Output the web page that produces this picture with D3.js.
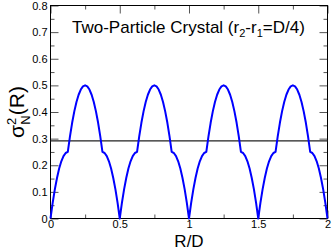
<!DOCTYPE html>
<html>
<head>
<meta charset="utf-8">
<script src="https://cdnjs.cloudflare.com/ajax/libs/d3/7.8.5/d3.min.js"></script>
<style>
    body { margin: 0; background: #fff; }
    svg text { font-family: "Liberation Sans", Arial, Helvetica, sans-serif; fill: #000; }
</style>
</head>
<body>
<svg width="332" height="251"></svg>
<script>
// R/D sample positions
var rOverD = [
    0, .0156, .0313, .0469, .0625, .0781, .0938, .1094, .125, .1406, .1563, .1719, .1875, .2031, .2188, .2344,
    .25, .2656, .2813, .2969, .3125, .3281, .3438, .3594, .375, .3906, .4063, .4219, .4375, .4531, .4688, .4844,
    .5, .5156, .5313, .5469, .5625, .5781, .5938, .6094, .625, .6406, .6563, .6719, .6875, .7031, .7188, .7344,
    .75, .7656, .7813, .7969, .8125, .8281, .8438, .8594, .875, .8906, .9063, .9219, .9375, .9531, .9688, .9844,
    1, 1.0156, 1.0313, 1.0469, 1.0625, 1.0781, 1.0938, 1.1094, 1.125, 1.1406, 1.1563, 1.1719, 1.1875, 1.2031, 1.2188, 1.2344,
    1.25, 1.2656, 1.2813, 1.2969, 1.3125, 1.3281, 1.3438, 1.3594, 1.375, 1.3906, 1.4063, 1.4219, 1.4375, 1.4531, 1.4688, 1.4844,
    1.5, 1.5156, 1.5313, 1.5469, 1.5625, 1.5781, 1.5938, 1.6094, 1.625, 1.6406, 1.6563, 1.6719, 1.6875, 1.7031, 1.7188, 1.7344,
    1.75, 1.7656, 1.7813, 1.7969, 1.8125, 1.8281, 1.8438, 1.8594, 1.875, 1.8906, 1.9063, 1.9219, 1.9375, 1.9531, 1.9688, 1.9844,
    2
];
// number variance sigma_N^2(R) at those positions
var sigma2 = [
    0, .0586, .1094, .1523, .1875, .2148, .2344, .2461, .25, .3086, .3594, .4023, .4375, .4648, .4844, .4961,
    .5, .4961, .4844, .4648, .4375, .4023, .3594, .3086, .25, .2461, .2344, .2148, .1875, .1523, .1094, .0586,
    0, .0586, .1094, .1523, .1875, .2148, .2344, .2461, .25, .3086, .3594, .4023, .4375, .4648, .4844, .4961,
    .5, .4961, .4844, .4648, .4375, .4023, .3594, .3086, .25, .2461, .2344, .2148, .1875, .1523, .1094, .0586,
    0, .0586, .1094, .1523, .1875, .2148, .2344, .2461, .25, .3086, .3594, .4023, .4375, .4648, .4844, .4961,
    .5, .4961, .4844, .4648, .4375, .4023, .3594, .3086, .25, .2461, .2344, .2148, .1875, .1523, .1094, .0586,
    0, .0586, .1094, .1523, .1875, .2148, .2344, .2461, .25, .3086, .3594, .4023, .4375, .4648, .4844, .4961,
    .5, .4961, .4844, .4648, .4375, .4023, .3594, .3086, .25, .2461, .2344, .2148, .1875, .1523, .1094, .0586,
    0
];
var meanVariance = 0.2917;

var xMajor = [0, 0.5, 1, 1.5, 2];
var xMinor = [0.25, 0.75, 1.25, 1.75];
var yMajor = [0, 0.1, 0.2, 0.3, 0.4, 0.5, 0.6, 0.7, 0.8];
var yMinor = [0.05, 0.15, 0.25, 0.35, 0.45, 0.55, 0.65, 0.75];

var svg = d3.select("svg");
var x = d3.scaleLinear().domain([0, 2]).range([50.5, 327.5]);
var y = d3.scaleLinear().domain([0, 0.8]).range([218.5, 5.5]);

var fmt = function(d) { return String(d); };

// bottom axis with labels
svg.append("g").attr("transform", "translate(0," + y(0) + ")")
    .call(d3.axisBottom(x).tickValues(xMajor).tickFormat(fmt).tickSizeInner(-8).tickSizeOuter(0).tickPadding(2));
svg.append("g").attr("transform", "translate(0," + y(0) + ")")
    .call(d3.axisBottom(x).tickValues(xMinor).tickFormat("").tickSizeInner(-4).tickSizeOuter(0));
// top mirror
svg.append("g").attr("transform", "translate(0," + y(0.8) + ")")
    .call(d3.axisTop(x).tickValues(xMajor).tickFormat("").tickSizeInner(-8).tickSizeOuter(0));
svg.append("g").attr("transform", "translate(0," + y(0.8) + ")")
    .call(d3.axisTop(x).tickValues(xMinor).tickFormat("").tickSizeInner(-4).tickSizeOuter(0));

// left axis with labels
svg.append("g").attr("transform", "translate(" + x(0) + ",0)")
    .call(d3.axisLeft(y).tickValues(yMajor).tickFormat(fmt).tickSizeInner(-8).tickSizeOuter(0).tickPadding(3));
svg.append("g").attr("transform", "translate(" + x(0) + ",0)")
    .call(d3.axisLeft(y).tickValues(yMinor).tickFormat("").tickSizeInner(-4).tickSizeOuter(0));
// right mirror
svg.append("g").attr("transform", "translate(" + x(2) + ",0)")
    .call(d3.axisRight(y).tickValues(yMajor).tickFormat("").tickSizeInner(-8).tickSizeOuter(0));
svg.append("g").attr("transform", "translate(" + x(2) + ",0)")
    .call(d3.axisRight(y).tickValues(yMinor).tickFormat("").tickSizeInner(-4).tickSizeOuter(0));

svg.selectAll(".domain").remove();
svg.selectAll(".tick line").attr("stroke", "#555");
svg.selectAll(".tick text").style("font-size", "11px").attr("fill", "#000");

// frame
svg.append("rect")
    .attr("x", x(0)).attr("y", y(0.8))
    .attr("width", x(2) - x(0)).attr("height", y(0) - y(0.8))
    .attr("fill", "none").attr("stroke", "#000").attr("stroke-width", 1);

// mean line
svg.append("line")
    .attr("x1", x(0)).attr("x2", x(2))
    .attr("y1", y(meanVariance)).attr("y2", y(meanVariance))
    .attr("stroke", "#222").attr("stroke-width", 1.2);

// variance curve
var pts = rOverD.map(function(r, i) { return [r, sigma2[i]]; });
var line = d3.line().x(function(d) { return x(d[0]); }).y(function(d) { return y(d[1]); });
svg.append("path")
    .datum(pts)
    .attr("d", line)
    .attr("fill", "none")
    .attr("stroke", "#0000ff")
    .attr("stroke-width", 2)
    .attr("stroke-linejoin", "round");

// title
var title = svg.append("text").attr("x", 72).attr("y", 33).style("font-size", "17px");
title.append("tspan").text("Two-Particle Crystal (r");
title.append("tspan").text("2").style("font-size", "11px").attr("dy", 4);
title.append("tspan").text("-r").attr("dy", -4);
title.append("tspan").text("1").style("font-size", "11px").attr("dy", 4);
title.append("tspan").text("=D/4)").attr("dy", -4);

// x label
svg.append("text")
    .attr("x", (x(0) + x(2)) / 2).attr("y", 247)
    .attr("text-anchor", "middle")
    .style("font-size", "17px")
    .text("R/D");

// y label
var yl = svg.append("text")
    .attr("transform", "translate(24," + ((y(0) + y(0.8)) / 2) + ") rotate(-90)")
    .attr("text-anchor", "middle")
    .style("font-size", "21px");
yl.append("tspan").text("σ");
yl.append("tspan").text("2").style("font-size", "13px").attr("dy", -8);
yl.append("tspan").text("N").style("font-size", "13px").attr("dx", -7).attr("dy", 14);
yl.append("tspan").text("(R)").attr("dy", -6);
</script>
</body>
</html>
